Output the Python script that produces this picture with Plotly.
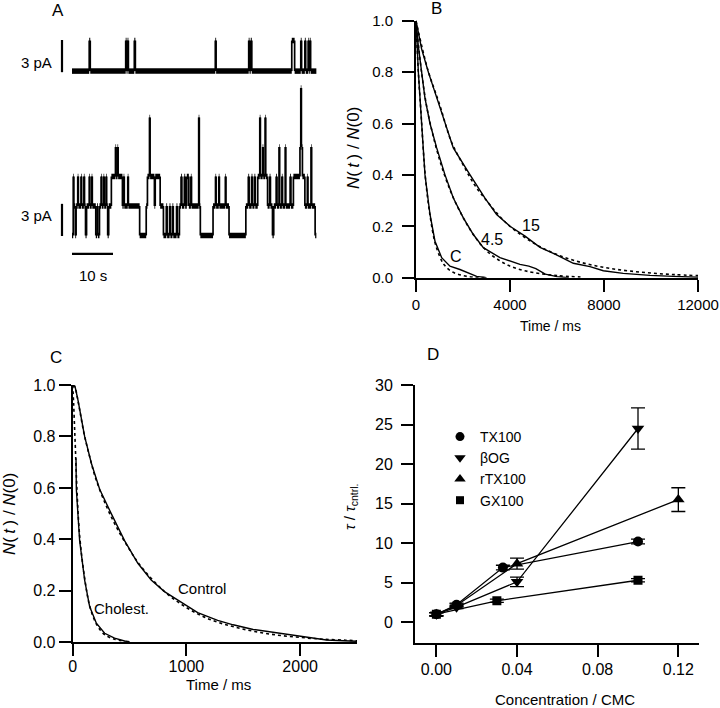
import plotly.graph_objects as go

W, H = 720, 708
FONT = "Liberation Sans, Arial, Helvetica, sans-serif"


def px_x(p):
    return p / W


def px_y(p):
    return 1 - p / H


# ---------------- Panel A: single-channel records ----------------
# top record: opening intervals (s)
top_open_start = [4.2, 13.1, 13.55, 15.2, 34.95, 43.1, 43.6, 53.6, 55.8, 56.8, 57.6, 58.0]
top_open_end = [4.45, 13.3, 13.75, 15.45, 35.15, 43.3, 43.85, 54.3, 56.0, 57.0, 57.75, 58.2]
record_end_s = 59.6
top_base_pA = 16.7
top_unit_pA = 2.85
bottom_base_pA = 1.38
bottom_unit_pA = 2.75

# bottom record: (time s, number of open channels)
bottom_steps = [
    (0.0, 0), (0.3, 2), (0.45, 1), (0.8, 0), (1.0, 1), (1.4, 2), (1.55, 1), (2.2, 2), (2.35, 1),
    (2.9, 2), (3.05, 1), (3.3, 0), (3.55, 1), (4.2, 2), (4.35, 1), (4.8, 2), (4.95, 1), (5.8, 0),
    (6.1, 1), (6.3, 0), (6.7, 1), (7.1, 2), (7.25, 1), (7.7, 2), (7.85, 1), (8.3, 2), (8.45, 1),
    (8.7, 0), (8.95, 1), (9.6, 2), (10.6, 3), (10.75, 2), (11.1, 3), (11.25, 2), (12.3, 1),
    (12.6, 2), (12.75, 1), (13.6, 2), (13.75, 1), (16.5, 0), (18.1, 1), (18.4, 2), (18.9, 4),
    (19.05, 2), (20.1, 1), (20.3, 2), (21.5, 1), (22.3, 0), (23.0, 1), (23.2, 0), (23.8, 1),
    (24.0, 0), (24.5, 1), (24.7, 0), (25.5, 1), (25.7, 0), (26.2, 1), (26.6, 2), (26.8, 1),
    (27.4, 2), (27.6, 1), (28.0, 2), (28.5, 1), (29.0, 2), (29.15, 1), (30.9, 4), (31.05, 1),
    (31.3, 0), (34.4, 1), (35.0, 2), (35.15, 1), (35.8, 2), (35.95, 1), (37.4, 2), (37.55, 1),
    (38.3, 0), (42.4, 1), (43.0, 2), (43.2, 1), (43.8, 2), (44.0, 1), (44.5, 2), (44.7, 1),
    (45.3, 2), (45.8, 4), (45.95, 2), (46.5, 3), (46.65, 2), (47.1, 4), (47.25, 2), (47.7, 1),
    (48.2, 2), (48.4, 1), (48.9, 0), (49.2, 1), (49.8, 2), (50.0, 1), (50.5, 3), (50.65, 1),
    (51.2, 2), (51.35, 1), (52.0, 3), (52.15, 1), (53.2, 2), (53.4, 1), (54.0, 2), (55.6, 3),
    (55.8, 5), (55.95, 3), (56.2, 2), (56.8, 1), (57.4, 2), (57.55, 1), (58.3, 3), (58.45, 1),
    (59.3, 0),
]

# ---------------- Panel B ----------------
b15_t = [0, 240, 525, 880, 1234, 1588, 2300, 2935, 3430, 4000, 4640, 5276, 5843, 6694, 7404, 7970, 8821, 9957, 10950, 12000]
b15_y = [1.0, 0.89, 0.80, 0.70, 0.60, 0.505, 0.40, 0.31, 0.246, 0.20, 0.162, 0.118, 0.095, 0.056, 0.043, 0.027, 0.017, 0.009, 0.005, 0.002]
b45_t = [0, 100, 240, 380, 595, 880, 1234, 1588, 2014, 2440, 2865, 3573, 4424, 4800, 5100, 5500, 6000, 6500]
b45_y = [1.0, 0.90, 0.80, 0.70, 0.60, 0.505, 0.40, 0.31, 0.233, 0.168, 0.117, 0.078, 0.052, 0.045, 0.035, 0.014, 0.004, 0.0]
bC_t = [0, 50, 100, 240, 383, 596, 808, 1092, 1446, 1870, 2300, 2580, 3000]
bC_y = [1.0, 0.90, 0.80, 0.60, 0.40, 0.246, 0.142, 0.078, 0.045, 0.032, 0.016, 0.005, 0.0]
fit15_t = [0, 500, 1000, 1500, 2000, 2500, 3000, 3500, 4000, 5000, 6000, 7000, 8000, 9000, 10000, 11000, 12000]
fit15_y = [1.0, 0.81, 0.675, 0.53, 0.44, 0.36, 0.30, 0.245, 0.20, 0.135, 0.09, 0.06, 0.04, 0.027, 0.018, 0.012, 0.008]
fit45_t = [0, 250, 500, 1000, 1500, 2000, 2500, 3000, 3500, 4000, 4500, 5000, 6000, 7000]
fit45_y = [1.0, 0.79, 0.645, 0.46, 0.33, 0.235, 0.16, 0.105, 0.07, 0.045, 0.03, 0.02, 0.008, 0.003]
fitC_t = [0, 100, 200, 400, 600, 800, 1000, 1200, 1500, 2000, 2500, 3000]
fitC_y = [1.0, 0.80, 0.66, 0.39, 0.24, 0.14, 0.085, 0.05, 0.025, 0.008, 0.002, 0.0]

# ---------------- Panel C ----------------
ctrl_t = [0, 20, 47, 105, 164, 237, 339, 456, 573, 690, 807, 924, 1099, 1275, 1411, 1587, 1851, 1997, 2144, 2232, 2378, 2500]
ctrl_y = [1.0, 0.995, 0.94, 0.80, 0.696, 0.595, 0.50, 0.395, 0.307, 0.242, 0.197, 0.165, 0.115, 0.085, 0.068, 0.05, 0.033, 0.024, 0.014, 0.009, 0.006, 0.004]
ctrl_fit_t = [0, 20, 50, 100, 150, 200, 300, 400, 500, 600, 800, 1000, 1200, 1400, 1600, 1800, 2000, 2200, 2400, 2500]
ctrl_fit_y = [1.0, 0.99, 0.93, 0.81, 0.72, 0.64, 0.525, 0.435, 0.36, 0.295, 0.20, 0.135, 0.09, 0.062, 0.042, 0.028, 0.019, 0.012, 0.008, 0.006]
chol_t = [29, 32, 61, 105, 149, 208, 281, 368, 456, 500]
chol_y = [0.715, 0.595, 0.395, 0.242, 0.139, 0.074, 0.035, 0.016, 0.005, 0.002]
chol_fit_t = [0, 8, 16, 24, 32, 60, 105, 150, 210, 280, 370, 460]
chol_fit_y = [1.0, 0.93, 0.84, 0.75, 0.65, 0.42, 0.25, 0.14, 0.07, 0.03, 0.012, 0.004]

# ---------------- Panel D ----------------
tx_x = [0.0, 0.01, 0.033, 0.1]
tx_y = [1.0, 2.2, 6.9, 10.2]
tx_err = [0.2, 0.2, 0.3, 0.3]
bog_x = [0.0, 0.01, 0.04, 0.1]
bog_y = [1.0, 1.9, 5.1, 24.5]
bog_err = [0.2, 0.2, 0.6, 2.6]
rtx_x = [0.0, 0.01, 0.04, 0.12]
rtx_y = [1.0, 2.1, 7.4, 15.5]
rtx_err = [0.2, 0.2, 0.7, 1.5]
gx_x = [0.0, 0.03, 0.1]
gx_y = [1.0, 2.7, 5.3]
gx_err = [0.2, 0.2, 0.2]

fig = go.Figure()


def step_segments(times, levels, t_end, base, amp):
    hx, hy, vx, vy = [], [], [], []
    n = len(times)
    for i in range(n):
        t = times[i]
        t2 = times[i + 1] if i + 1 < n else t_end
        y = base + amp * levels[i]
        hx += [t, t2, None]
        hy += [y, y, None]
        if i + 1 < n:
            y2 = base + amp * levels[i + 1]
            vx += [t2, t2, None]
            vy += [y, y2, None]
    return hx, hy, vx, vy


# top record change points
top_times = [0.0]
top_levels = [0]
for s, e in zip(top_open_start, top_open_end):
    top_times += [s, e]
    top_levels += [1, 0]

bottom_times = [s[0] for s in bottom_steps]
bottom_levels = [s[1] for s in bottom_steps]

for times, levels, base, amp in [(top_times, top_levels, top_base_pA, top_unit_pA),
                                 (bottom_times, bottom_levels, bottom_base_pA, bottom_unit_pA)]:
    hx, hy, vx, vy = step_segments(times, levels, record_end_s, base, amp)
    fig.add_trace(go.Scatter(x=hx, y=hy, mode="lines", line=dict(color="black", width=5.5),
                             xaxis="x", yaxis="y", showlegend=False, hoverinfo="skip"))
    fig.add_trace(go.Scatter(x=vx, y=vy, mode="lines", line=dict(color="black", width=1.7),
                             xaxis="x", yaxis="y", showlegend=False, hoverinfo="skip"))

# scale bars
bar_t = -2.44
fig.add_trace(go.Scatter(x=[bar_t, bar_t, None, bar_t, bar_t, None, 0, 10],
                         y=[top_base_pA - 0.1, top_base_pA + 2.9, None,
                            bottom_base_pA - 0.05, bottom_base_pA + 2.95, None, -0.34, -0.34],
                         mode="lines", line=dict(color="black", width=2.2),
                         xaxis="x", yaxis="y", showlegend=False, hoverinfo="skip"))

# Panel B
for tt, yy in [(b15_t, b15_y), (b45_t, b45_y), (bC_t, bC_y)]:
    fig.add_trace(go.Scatter(x=tt, y=yy, mode="lines", line=dict(color="black", width=1.4),
                             xaxis="x2", yaxis="y2", showlegend=False))
for tt, yy in [(fit15_t, fit15_y), (fit45_t, fit45_y), (fitC_t, fitC_y)]:
    fig.add_trace(go.Scatter(x=tt, y=yy, mode="lines", line=dict(color="black", width=1.6, dash="dot", shape="spline"),
                             xaxis="x2", yaxis="y2", showlegend=False))

# Panel C
for tt, yy in [(ctrl_t, ctrl_y), (chol_t, chol_y)]:
    fig.add_trace(go.Scatter(x=tt, y=yy, mode="lines", line=dict(color="black", width=1.4),
                             xaxis="x3", yaxis="y3", showlegend=False))
for tt, yy in [(ctrl_fit_t, ctrl_fit_y), (chol_fit_t, chol_fit_y)]:
    fig.add_trace(go.Scatter(x=tt, y=yy, mode="lines", line=dict(color="black", width=1.6, dash="dot", shape="spline"),
                             xaxis="x3", yaxis="y3", showlegend=False))

# Panel D
series_d = [
    ("TX100", tx_x, tx_y, tx_err, "circle", 10),
    ("\u03b2OG", bog_x, bog_y, bog_err, "triangle-down", 11),
    ("rTX100", rtx_x, rtx_y, rtx_err, "triangle-up", 11),
    ("GX100", gx_x, gx_y, gx_err, "square", 9),
]
for name, xx, yy, ee, sym, sz in series_d:
    fig.add_trace(go.Scatter(x=xx, y=yy, mode="lines+markers",
                             line=dict(color="black", width=1.3),
                             marker=dict(symbol=sym, size=sz, color="black"),
                             error_y=dict(type="data", array=ee, visible=True, color="black",
                                          thickness=1.3, width=7),
                             xaxis="x4", yaxis="y4", showlegend=False))
for name, xx, yy, ee, sym, sz in series_d:
    fig.add_trace(go.Scatter(x=[None], y=[None], mode="markers", name=name,
                             marker=dict(symbol=sym, size=sz - 1, color="black"),
                             xaxis="x4", yaxis="y4", showlegend=True))

axis_common = dict(showline=True, linecolor="black", linewidth=2, ticks="outside",
                   ticklen=12, tickwidth=2, tickcolor="black", showgrid=False,
                   zeroline=False, color="black", automargin=False)

# panel A axis mapping: px = 72 + 4.1*t ; py = 250.3 - 10.73*v
a_x_range = [(0 - 72) / 4.1, (340 - 72) / 4.1]
a_y_range = [(250.3 - 290) / 10.73, (250.3 - 0) / 10.73]

fig.update_layout(
    template="none",
    width=W, height=H, margin=dict(l=0, r=0, t=0, b=0, pad=0, autoexpand=False),
    paper_bgcolor="white", plot_bgcolor="white",
    font=dict(family=FONT, color="black", size=15),
    xaxis=dict(domain=[0, px_x(340)], range=a_x_range, visible=False, automargin=False),
    yaxis=dict(domain=[px_y(290), 1], range=a_y_range, visible=False, automargin=False),
    xaxis2=dict(domain=[px_x(416), px_x(698)], range=[0, 12000], tickvals=[0, 4000, 8000, 12000],
                ticktext=["0", "4000", "8000", "12000"], tickfont=dict(size=15),
                ticklabelstandoff=0, anchor="y2", **axis_common),
    yaxis2=dict(domain=[px_y(277.7), px_y(20.7)], range=[0, 1], tickvals=[0, 0.2, 0.4, 0.6, 0.8, 1.0],
                tickformat=".1f", tickfont=dict(size=15), ticklabelstandoff=6, anchor="x2", **axis_common),
    xaxis3=dict(domain=[px_x(72.7), px_x(357)], range=[0, 2500], tickvals=[0, 1000, 2000],
                ticktext=["0", "1000", "2000"], tickfont=dict(size=16), ticklabelstandoff=-4,
                anchor="y3", **axis_common),
    yaxis3=dict(domain=[px_y(642.3), px_y(385)], range=[0, 1], tickvals=[0, 0.2, 0.4, 0.6, 0.8, 1.0],
                tickformat=".1f", tickfont=dict(size=16), ticklabelstandoff=0, anchor="x3", **axis_common),
    xaxis4=dict(domain=[px_x(415), px_x(699.3)], range=[-0.0106, 0.1304], tickvals=[0, 0.04, 0.08, 0.12],
                tickformat=".2f", tickfont=dict(size=16), ticklabelstandoff=-1, anchor="y4", **axis_common),
    yaxis4=dict(domain=[px_y(642.7), px_y(385)], range=[-2.6, 30], tickvals=[0, 5, 10, 15, 20, 25, 30],
                tickfont=dict(size=16), ticklabelstandoff=5, anchor="x4", **axis_common),
    legend=dict(x=px_x(440), y=px_y(421), xanchor="left", yanchor="top",
                font=dict(size=14, family=FONT), bgcolor="rgba(0,0,0,0)",
                tracegroupgap=0, itemwidth=30),
    showlegend=True,
)

ann = []


def add_px(text, x, y, size=15, angle=0):
    ann.append(dict(text=text, x=px_x(x), y=px_y(y), xref="paper", yref="paper",
                    xanchor="center", yanchor="middle", showarrow=False, textangle=angle,
                    font=dict(size=size, family=FONT, color="black")))


def add_data(text, x, y, xref, yref, size=15):
    ann.append(dict(text=text, x=x, y=y, xref=xref, yref=yref, xanchor="center",
                    yanchor="middle", showarrow=False, font=dict(size=size, family=FONT, color="black")))


add_px("A", 58, 11, 17)
add_px("B", 437, 9, 17)
add_px("C", 56, 357, 17)
add_px("D", 433, 354, 17)
add_px("3 pA", 36, 62, 15)
add_px("3 pA", 36, 215, 15)
add_px("10 s", 93, 275, 15)

add_data("15", 4893, 0.205, "x2", "y2", 16)
add_data("4.5", 3234, 0.15, "x2", "y2", 16)
add_data("C", 1702, 0.084, "x2", "y2", 16)
add_data("Control", 1136, 0.211, "x3", "y3", 15)
add_data("Cholest.", 425, 0.133, "x3", "y3", 15)

ylab = "<i>N</i>(\u2009<i>t</i>\u2009) / <i>N</i>(0)"
add_px(ylab, 354, 148, 17, -90)
add_px("Time / ms", 550, 326, 14)
add_px(ylab, 9, 514, 17, -90)
add_px("Time / ms", 219, 684, 15)
add_px("<i>\u03c4</i> / <i>\u03c4</i><sub>cntrl.</sub>", 350, 507, 15, -90)
add_px("Concentration / CMC", 565, 699, 15)

fig.update_layout(annotations=ann)

page_css = ("document.body.style.margin='0';document.body.style.padding='0';"
            "document.documentElement.style.overflow='hidden';")
fig.write_html("out.html", post_script=page_css, config={"displayModeBar": False})
